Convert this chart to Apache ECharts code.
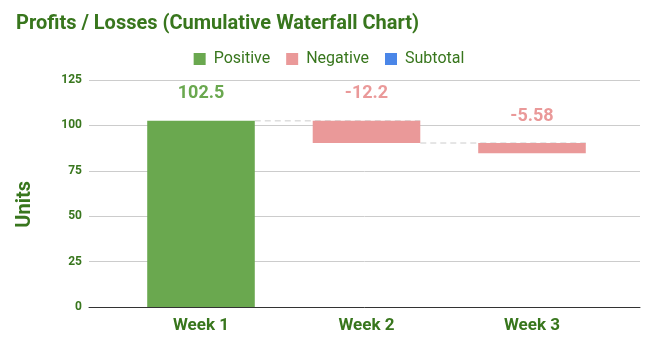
<!DOCTYPE html>
<html><head><meta charset="utf-8">
<script src="https://cdn.jsdelivr.net/npm/echarts@6/dist/echarts.min.js"></script>
<style>html,body{margin:0;padding:0;background:#fff}#c{width:658px;height:350px}</style>
</head><body><div id="c"></div>
<script>
const categories = ['Week 1', 'Week 2', 'Week 3'];
const changes = [102.5, -12.2, -5.58];
const yTicks = [0, 25, 50, 75, 100, 125];
const seriesNames = ['Positive', 'Negative', 'Subtotal'];

const GREEN = '#6aa84f', RED = '#ea9999', BLUE = '#4a86e8', TXT = '#38761d';
const base = [], pos = [], neg = [], ends = [];
let cum = 0;
changes.forEach(v => {
  const start = cum; cum += v;
  base.push(Math.min(start, cum));
  if (v >= 0) { pos.push(v); neg.push('-'); } else { pos.push('-'); neg.push(-v); }
  ends.push(cum);
});
const connectors = [];
for (let i = 0; i < changes.length - 1; i++) connectors.push([i, ends[i]]);

const chart = echarts.init(document.getElementById('c'));
const F = 'Roboto';
chart.setOption({
  animation: false,
  textStyle: { fontFamily: F },
  title: { text: 'Profits / Losses (Cumulative Waterfall Chart)', left: 11, top: 9,
    textStyle: { fontFamily: F, fontSize: 20, fontWeight: 'bold', color: TXT } },
  legend: { data: seriesNames, left: 'center', top: 46, icon: 'rect', itemWidth: 12, itemHeight: 12,
    itemGap: 16, textStyle: { fontFamily: F, fontSize: 16, color: TXT, padding: [0, 0, 0, 3] } },
  graphic: [{ type: 'text', left: 15, top: 181, rotation: Math.PI / 2,
    style: { text: 'Units', fontFamily: F, fontSize: 20, fontWeight: 'bold', fill: TXT } }],
  grid: [
    { left: 89, right: 18, top: 80, bottom: 43 },
    { left: 118.25, right: 43.25, top: 80, bottom: 43 }
  ],
  xAxis: [
    { gridIndex: 0, type: 'value', min: 0, max: 1, axisLabel: { show: false }, axisTick: { show: false },
      splitLine: { show: false }, axisLine: { show: true, lineStyle: { color: '#333', width: 1 } } },
    { gridIndex: 1, type: 'category', data: categories, axisLine: { show: false }, axisTick: { show: false },
      axisLabel: { margin: 10, fontFamily: F, fontSize: 17, fontWeight: 'bold', color: TXT } }
  ],
  yAxis: [
    { gridIndex: 0, type: 'value', min: yTicks[0], max: yTicks[yTicks.length - 1], interval: 25,
      axisLine: { show: false }, axisTick: { show: false },
      axisLabel: { margin: 7, fontFamily: F, fontSize: 12, fontWeight: 'bold', color: TXT },
      splitLine: { lineStyle: { color: '#cccccc' } } },
    { gridIndex: 1, type: 'value', min: 0, max: 125, show: false, splitLine: { show: false } }
  ],
  series: [
    { type: 'custom', xAxisIndex: 1, yAxisIndex: 1, z: 1, silent: true, data: connectors,
      renderItem: (params, api) => {
        const i = api.value(0), y = api.value(1);
        const w = api.size([1, 0])[0] * 0.65;
        const p1 = api.coord([i, y]), p2 = api.coord([i + 1, y]);
        return { type: 'line', shape: { x1: p1[0] + w / 2, y1: p1[1], x2: p2[0] + w / 2, y2: p2[1] },
          style: { stroke: '#cccccc', lineWidth: 1, lineDash: [6, 4] } };
      } },
    { name: 'base', type: 'bar', stack: 'w', xAxisIndex: 1, yAxisIndex: 1, barWidth: '65%', z: 2,
      itemStyle: { color: 'transparent' }, silent: true, data: base },
    { name: 'Positive', type: 'bar', stack: 'w', xAxisIndex: 1, yAxisIndex: 1, z: 2, itemStyle: { color: GREEN },
      label: { show: true, position: 'top', distance: 18, fontFamily: F, fontSize: 18, fontWeight: 'bold', color: GREEN,
        formatter: p => String(p.value) }, data: pos },
    { name: 'Negative', type: 'bar', stack: 'w', xAxisIndex: 1, yAxisIndex: 1, z: 2, itemStyle: { color: RED },
      label: { show: true, position: 'top', distance: 18, fontFamily: F, fontSize: 18, fontWeight: 'bold', color: RED,
        formatter: p => '-' + p.value }, data: neg },
    { name: 'Subtotal', type: 'bar', stack: 'w', xAxisIndex: 1, yAxisIndex: 1, z: 2, itemStyle: { color: BLUE },
      data: categories.map(() => '-') }
  ]
});
</script></body></html>
